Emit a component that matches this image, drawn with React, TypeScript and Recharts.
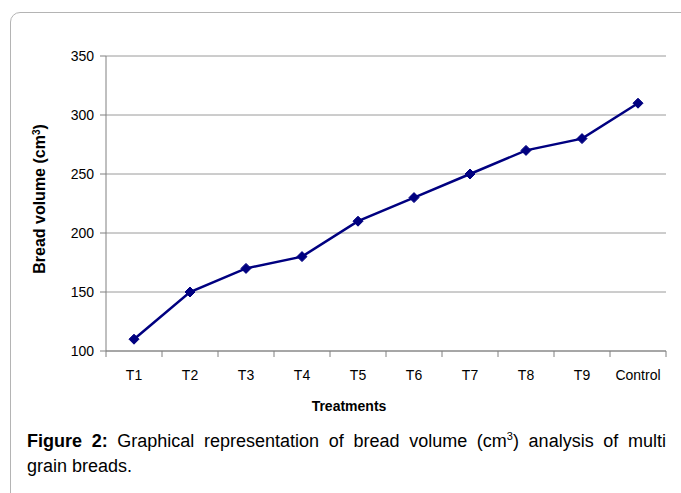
import React from "react";
import { LineChart, Line, XAxis, YAxis, CartesianGrid, Label } from "recharts";

const treatments = ["T1", "T2", "T3", "T4", "T5", "T6", "T7", "T8", "T9", "Control"];
const breadVolume = [110, 150, 170, 180, 210, 230, 250, 270, 280, 310];
const yTicks = [100, 150, 200, 250, 300, 350];

const data = treatments.map((name, i) => ({ name, volume: breadVolume[i] }));

const W = 681;
const H = 420;
const margin = { top: 56, right: 15, bottom: 29, left: 60 };
const yAxisWidth = 46;
const plotWidth = W - margin.left - yAxisWidth - margin.right;
const band = plotWidth / treatments.length;
const font = "'Liberation Sans', Arial, sans-serif";

// category label + tick mark on the boundary between categories (Excel style)
const CatTick = (props: any) => {
  const { x, y, payload, index } = props;
  const right = x + band / 2;
  return (
    <g>
      <text x={x} y={y + 21} textAnchor="middle" fontSize={14} fill="#000" fontFamily={font}>
        {payload.value}
      </text>
      <line x1={right} x2={right} y1={y - 8} y2={y - 2} stroke="#808080" />
      {index === 0 && (
        <line x1={x - band / 2} x2={x - band / 2} y1={y - 8} y2={y - 2} stroke="#808080" />
      )}
    </g>
  );
};

const Diamond = (props: any) => {
  const { cx, cy } = props;
  if (cx == null || cy == null) return null;
  const r = 5;
  return (
    <path
      d={`M${cx},${cy - r} L${cx + r},${cy} L${cx},${cy + r} L${cx - r},${cy} Z`}
      fill="#000080"
      stroke="#000080"
    />
  );
};

const YTitle = () => (
  <text
    x={45}
    y={199}
    transform="rotate(-90 45 199)"
    textAnchor="middle"
    fontSize={16}
    fontWeight="bold"
    fill="#000"
    fontFamily={font}
  >
    Bread volume (cm
    <tspan baselineShift="super" fontSize={10}>3</tspan>)
  </text>
);

const XTitle = () => (
  <text x={349} y={411} textAnchor="middle" fontSize={14} fontWeight="bold" fill="#000" fontFamily={font}>
    Treatments
  </text>
);

export default function App() {
  return (
    <div
      style={{
        position: "fixed",
        left: 0,
        top: 0,
        width: W,
        height: 493,
        overflow: "hidden",
        background: "#fff",
        fontFamily: font,
      }}
    >
      <div
        style={{
          position: "absolute",
          left: 10,
          top: 12,
          width: 720,
          height: 540,
          border: "1px solid #b4b4b4",
          borderRadius: 10,
        }}
      />
      <div style={{ position: "absolute", left: 0, top: 0 }}>
        <LineChart width={W} height={H} data={data} margin={margin}>
          <CartesianGrid vertical={false} stroke="#9a9a9a" />
          <XAxis
            dataKey="name"
            stroke="#808080"
            tickLine={false}
            tickSize={6}
            tickMargin={2}
            height={40}
            padding={{ left: band / 2, right: band / 2 }}
            tick={<CatTick />}
            interval={0}
          >
            <Label content={<XTitle />} />
          </XAxis>
          <YAxis
            domain={[100, 350]}
            ticks={yTicks}
            width={yAxisWidth}
            stroke="#808080"
            tickSize={6}
            tickMargin={6}
            tick={{ fontSize: 14, fill: "#000", fontFamily: font }}
            interval={0}
          >
            <Label content={<YTitle />} />
          </YAxis>
          <Line
            type="linear"
            dataKey="volume"
            stroke="#000080"
            strokeWidth={2.5}
            dot={<Diamond />}
            activeDot={false}
            isAnimationActive={false}
          />
        </LineChart>
      </div>
      <div
        style={{
          position: "absolute",
          left: 27,
          top: 429,
          width: 639,
          fontSize: 18,
          lineHeight: "25px",
          color: "#000",
        }}
      >
        <div style={{ textAlign: "justify", textAlignLast: "justify" }}>
          <b>Figure 2:</b> Graphical representation of bread volume (cm
          <sup style={{ fontSize: 11, lineHeight: 0 }}>3</sup>) analysis of multi
        </div>
        <div>grain breads.</div>
      </div>
    </div>
  );
}
